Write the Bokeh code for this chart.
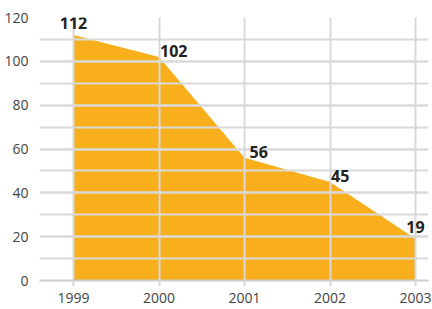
from bokeh.plotting import figure
from bokeh.models import ColumnDataSource, Range1d, FixedTicker, SingleIntervalTicker
from bokeh.core.properties import value
from bokeh.embed import file_html
from bokeh.resources import INLINE

years = [1999, 2000, 2001, 2002, 2003]
values = [112, 102, 56, 45, 19]

n = len(years)
ends = (0, n - 1)
aligns = ["center" if i in ends else "left" for i in range(n)]
xoffs = [0, 1, 5, 1, 0]
yoffs = [-12 if i in ends else -6 for i in range(n)]

src = ColumnDataSource(dict(x=years, y=values, t=[str(v) for v in values],
                            align=aligns, xo=xoffs, yo=yoffs))

p = figure(width=432, height=309, output_backend="svg", toolbar_location=None,
           x_range=Range1d(1998.602, 2003.152), y_range=Range1d(0, 120),
           min_border_left=39, min_border_right=4, min_border_top=17, min_border_bottom=29)
p.outline_line_color = None
p.background_fill_color = "white"

area = p.varea(x="x", y1=0, y2="y", source=src, fill_color="#F9AE1C")
area.level = "image"

p.text(x="x", y="y", text="t", source=src, text_align="align", x_offset="xo", y_offset="yo",
       text_baseline="alphabetic", text_font=value("Open Sans"), text_font_style="bold",
       text_font_size="16px", text_color="#222222")

grid_color = "#d9d9d9"
p.xaxis.ticker = FixedTicker(ticks=years)
p.yaxis.ticker = SingleIntervalTicker(interval=20, num_minor_ticks=2)

for g in p.grid:
    g.grid_line_color = grid_color
    g.grid_line_width = 2
p.ygrid.minor_grid_line_color = grid_color
p.ygrid.minor_grid_line_width = 2

p.xaxis.axis_line_color = "#cccccc"
p.xaxis.axis_line_width = 2
p.xaxis.major_tick_line_color = grid_color
p.xaxis.major_tick_line_width = 2
p.xaxis.major_tick_out = 6
p.xaxis.major_tick_in = 0
p.xaxis.minor_tick_line_color = None
p.xaxis.major_label_standoff = 6

p.yaxis.axis_line_color = None
p.yaxis.major_tick_line_color = None
p.yaxis.minor_tick_line_color = None
p.yaxis.major_label_standoff = 5

for ax in (p.xaxis, p.yaxis):
    ax.major_label_text_font = "Open Sans"
    ax.major_label_text_font_size = "14px"
    ax.major_label_text_color = "#444444"

open("out.html", "w").write(file_html(p, INLINE))
